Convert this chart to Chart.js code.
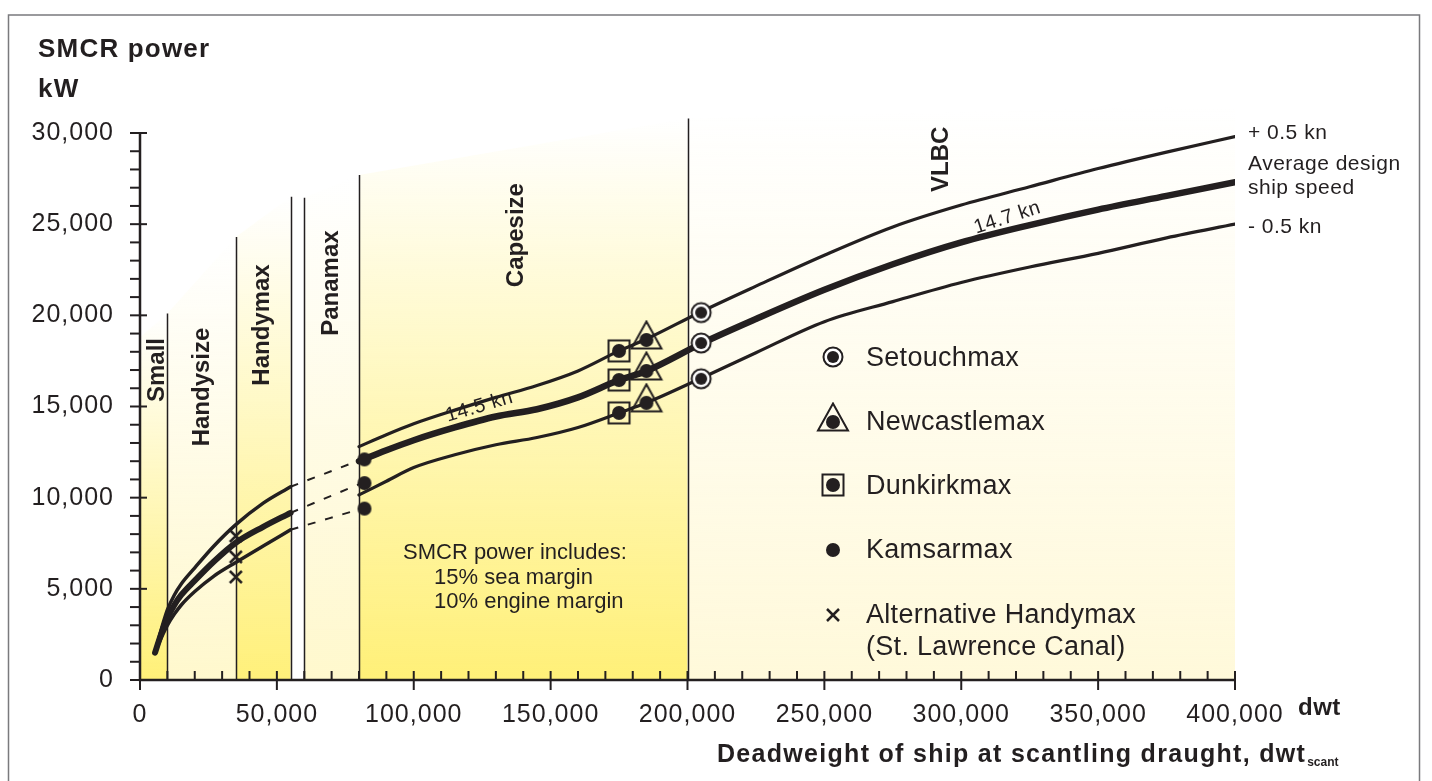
<!DOCTYPE html>
<html lang="en">
<head>
<meta charset="UTF-8">
<title>SMCR power vs deadweight</title>
<script src="https://cdn.jsdelivr.net/npm/chart.js"></script>
<style>
  html, body { margin: 0; padding: 0; background: #fff; }
  #wrap { width: 1432px; height: 781px; }
  canvas { display: block; background: #fff; }
</style>
</head>
<body>
<div id="wrap"><canvas id="powerChart" width="1432" height="781"></canvas></div>
<script>
// --- data -----------------------------------------------------------------
// axis ticks
const xTicks = [0, 50000, 100000, 150000, 200000, 250000, 300000, 350000, 400000];
const yTicks = [0, 5000, 10000, 15000, 20000, 25000, 30000];

// small ships (Small .. Handymax), solid part
const leftDwt = [5500, 7000, 8500, 10000, 12500, 15000, 20000, 27000, 35000, 45000, 55000];
const leftHigh = [1500, 2350, 3150, 3850, 4650, 5250, 6150, 7350, 8520, 9700, 10600];
const leftAvg = [1500, 2200, 2850, 3400, 4100, 4650, 5450, 6500, 7530, 8400, 9170];
const leftLow = [1500, 2050, 2550, 3000, 3600, 4100, 4850, 5700, 6450, 7350, 8240];

// dashed bridge towards Kamsarmax
const bridgeDwt = [55000, 81000];
const bridgeHigh = [10600, 12100];
const bridgeAvg = [9170, 10800];
const bridgeLow = [8240, 9400];

// Capesize .. VLBC curves
const rightDwt = [80000, 90000, 100000, 115000, 130000, 145000, 160000, 175000, 185000,
                  205000, 225000, 250000, 275000, 300000, 325000, 350000, 375000, 400000];
const rightHigh = [12800, 13450, 14050, 14800, 15500, 16150, 16950, 18050, 18700,
                   20200, 21600, 23300, 24850, 26050, 27050, 28050, 28950, 29800];
const rightAvg = [12000, 12600, 13150, 13850, 14450, 14850, 15500, 16450, 16950,
                  18450, 19800, 21400, 22800, 24000, 24950, 25800, 26550, 27300];
const rightLow = [10150, 10900, 11650, 12350, 12900, 13300, 13850, 14650, 15200,
                  16550, 17950, 19650, 20750, 21800, 22650, 23400, 24250, 25000];

// ship types
const kamsarDwt = [82000, 82000, 82000];
const kamsarPower = [12100, 10800, 9400];
const dunkirkDwt = [175000, 175000, 175000];
const dunkirkPower = [18050, 16450, 14650];
const newcastleDwt = [185000, 185000, 185000];
const newcastlePower = [18650, 16950, 15200];
const setouchDwt = [205000, 205000, 205000];
const setouchPower = [20150, 18480, 16520];
const altHandyDwt = [35000, 35000, 35000];
const altHandyPower = [7900, 6750, 5650];

// segments
const segNames = ['Small', 'Handysize', 'Handymax', 'Panamax', 'Capesize', 'VLBC'];
const segFrom = [0, 10000, 35000, 60000, 80000, 200000];
const segTo = [10000, 35000, 55000, 80000, 200000, 400000];
const dividerDwt = [10000, 35000, 55000, 60000, 80000, 200000];
const dividerTop = [20100, 24300, 26500, 26450, 27700, 30800];
const edgeDwt = [0, 10000, 35000, 55000, 60000, 80000, 200000, 400000];
const edgePower = [18800, 20100, 24300, 26500, 26450, 27700, 30800, 31500];

// --- style ----------------------------------------------------------------
const ink = '#231f20';
const FONT = "'Liberation Sans', Arial, Helvetica, sans-serif";
const segColor = [[255, 240, 120], [255, 248, 205], [255, 240, 122], [255, 248, 205], [255, 240, 120], [255, 249, 218]];
const segLabelAt = [[6200, 17000], [22900, 16070], [44800, 19470], [70000, 21770], [137600, 24400], [292700, 28560]];

function makeMarker(kind) {
  const c = document.createElement('canvas');
  c.width = 40; c.height = 40;
  const g = c.getContext('2d');
  g.translate(20, 20);
  g.strokeStyle = ink; g.fillStyle = ink; g.lineWidth = 2;
  const dot = r => { g.beginPath(); g.arc(0, 0, r, 0, Math.PI * 2); g.fillStyle = ink; g.fill(); };
  if (kind === 'ring') {
    g.beginPath(); g.arc(0, 0, 9.5, 0, Math.PI * 2);
    g.fillStyle = '#fff'; g.fill(); g.stroke();
    dot(6);
  } else if (kind === 'triangle') {
    g.beginPath(); g.moveTo(0, -18.5); g.lineTo(15, 8.5); g.lineTo(-15, 8.5); g.closePath(); g.stroke();
    dot(7);
  } else if (kind === 'square') {
    g.strokeRect(-10.5, -10.5, 21, 21);
    dot(7);
  } else if (kind === 'dot') {
    dot(7);
  } else {
    g.lineWidth = 2.5;
    g.beginPath(); g.moveTo(-6, -6); g.lineTo(6, 6); g.moveTo(6, -6); g.lineTo(-6, 6); g.stroke();
  }
  return c;
}
const markers = {
  ring: makeMarker('ring'), triangle: makeMarker('triangle'), square: makeMarker('square'),
  dot: makeMarker('dot'), cross: makeMarker('cross')
};

const pts = (xs, ys) => xs.map((v, i) => ({ x: v, y: ys[i] }));
const curve = (xs, ys, w, dash) => ({
  type: 'line', data: pts(xs, ys), borderColor: ink, borderWidth: w, borderDash: dash || [],
  borderCapStyle: dash ? 'butt' : 'round', pointRadius: 0, fill: false, cubicInterpolationMode: 'monotone'
});
const dots = (xs, ys, img) => ({
  type: 'scatter', data: pts(xs, ys), pointStyle: img, pointRadius: 10, showLine: false
});

function edgeAt(v) {
  for (let i = 1; i < edgeDwt.length; i++) {
    if (v <= edgeDwt[i]) {
      const t = (v - edgeDwt[i - 1]) / (edgeDwt[i] - edgeDwt[i - 1]);
      return edgePower[i - 1] + t * (edgePower[i] - edgePower[i - 1]);
    }
  }
  return edgePower[edgePower.length - 1];
}

// the printed original uses slightly tracked type
function text(ctx, str, x, y, font, spacing) {
  ctx.font = font;
  ctx.letterSpacing = (spacing || 0) + 'px';
  ctx.fillText(str, x, y);
  ctx.letterSpacing = '0px';
}

// background: shaded segments, dividers, axes
const backdrop = {
  id: 'backdrop',
  beforeDraw(chart) {
    chart.ctx.letterSpacing = '1px';   // tick labels
  },
  beforeDatasetsDraw(chart) {
    const { ctx, chartArea: a, scales: { x, y } } = chart;
    ctx.save();
    ctx.letterSpacing = '0px';
    segFrom.forEach((x0, i) => {
      const x1 = segTo[i];
      const px0 = x.getPixelForValue(x0), px1 = x.getPixelForValue(x1);
      const t0 = y.getPixelForValue(edgeAt(x0)), t1 = y.getPixelForValue(edgeAt(x1));
      const c = segColor[i];
      const g = ctx.createLinearGradient(0, a.bottom, 0, Math.min(t0, t1));
      g.addColorStop(0, `rgba(${c[0]},${c[1]},${c[2]},1)`);
      g.addColorStop(1, `rgba(${c[0]},${c[1]},${c[2]},0)`);
      ctx.fillStyle = g;
      ctx.beginPath();
      ctx.moveTo(px0, a.bottom); ctx.lineTo(px0, t0); ctx.lineTo(px1, t1); ctx.lineTo(px1, a.bottom);
      ctx.closePath(); ctx.fill();
    });

    ctx.strokeStyle = ink;
    ctx.lineWidth = 1.5;
    dividerDwt.forEach((v, i) => {
      const px = Math.round(x.getPixelForValue(v)) + 0.5;
      ctx.beginPath(); ctx.moveTo(px, a.bottom); ctx.lineTo(px, y.getPixelForValue(dividerTop[i])); ctx.stroke();
    });

    // axes with crossing major ticks
    ctx.lineWidth = 2.5;
    ctx.beginPath();
    ctx.moveTo(a.left, y.getPixelForValue(30000)); ctx.lineTo(a.left, a.bottom);
    ctx.lineTo(a.right, a.bottom);
    ctx.stroke();
    ctx.lineWidth = 2;
    for (let v = 0; v <= 400000; v += 10000) {
      const px = x.getPixelForValue(v);
      const major = v % 50000 === 0;
      ctx.beginPath(); ctx.moveTo(px, a.bottom - 9); ctx.lineTo(px, a.bottom + (major ? 10 : 0)); ctx.stroke();
    }
    for (let v = 0; v <= 30000; v += 1000) {
      const py = y.getPixelForValue(v);
      const major = v % 5000 === 0;
      ctx.beginPath(); ctx.moveTo(a.left - 10, py); ctx.lineTo(a.left + (major ? 7 : 0), py); ctx.stroke();
    }

    // segment names
    ctx.fillStyle = ink;
    ctx.textAlign = 'center';
    ctx.textBaseline = 'middle';
    segNames.forEach((n, i) => {
      ctx.save();
      ctx.translate(x.getPixelForValue(segLabelAt[i][0]), y.getPixelForValue(segLabelAt[i][1]));
      ctx.rotate(-Math.PI / 2);
      text(ctx, n, 0, 0, `bold 24px ${FONT}`);
      ctx.restore();
    });
    ctx.restore();
  },
  afterDatasetsDraw(chart) {
    const { ctx } = chart;
    ctx.save();
    ctx.fillStyle = ink;
    ctx.textAlign = 'left';
    ctx.textBaseline = 'alphabetic';

    // axis titles
    text(ctx, 'SMCR power', 38, 57, `bold 26px ${FONT}`, 1.2);
    text(ctx, 'kW', 38, 97, `bold 26px ${FONT}`, 1.2);
    text(ctx, 'dwt', 1298, 715, `bold 24px ${FONT}`, 0.5);
    const title = 'Deadweight of ship at scantling draught, dwt';
    ctx.font = `bold 25px ${FONT}`;
    ctx.letterSpacing = '1.3px';
    const tw = ctx.measureText(title).width;
    text(ctx, title, 717, 762, `bold 25px ${FONT}`, 1.3);
    text(ctx, 'scant', 717 + tw + 1, 766, `bold 12px ${FONT}`);

    // note
    text(ctx, 'SMCR power includes:', 403, 559, `22px ${FONT}`);
    text(ctx, '15% sea margin', 434, 584, `22px ${FONT}`);
    text(ctx, '10% engine margin', 434, 608, `22px ${FONT}`);

    // curve labels on the right
    const f21 = `21px ${FONT}`;
    text(ctx, '+ 0.5 kn', 1248, 139, f21, 0.5);
    text(ctx, 'Average design', 1248, 170, f21, 0.5);
    text(ctx, 'ship speed', 1248, 194, f21, 0.5);
    text(ctx, '- 0.5 kn', 1248, 233, f21, 0.5);

    // speed labels along the average curve
    ctx.textAlign = 'center';
    [['14.5 kn', 481, 412, -16.5], ['14.7 kn', 1009, 223, -18]].forEach(([t, px, py, ang]) => {
      ctx.save();
      ctx.translate(px, py);
      ctx.rotate(ang * Math.PI / 180);
      text(ctx, t, 0, 0, `20px ${FONT}`, 0.5);
      ctx.restore();
    });

    // legend
    ctx.textAlign = 'left';
    const legend = [
      [markers.ring, 357, ['Setouchmax'], 366],
      [markers.triangle, 422, ['Newcastlemax'], 430],
      [markers.square, 485, ['Dunkirkmax'], 494],
      [markers.dot, 550, ['Kamsarmax'], 558],
      [markers.cross, 615, ['Alternative Handymax', '(St. Lawrence Canal)'], 623]
    ];
    legend.forEach(([img, my, lines, by]) => {
      ctx.drawImage(img, 833 - 20, my - 20);
      lines.forEach((l, k) => text(ctx, l, 866, by + k * 32, `27px ${FONT}`, 0.3));
    });

    // frame
    ctx.strokeStyle = '#7a7a7d';
    ctx.lineWidth = 1.5;
    ctx.strokeRect(8.5, 15, 1411, 800);
    ctx.restore();
  }
};

new Chart(document.getElementById('powerChart'), {
  type: 'line',
  data: {
    datasets: [
      dots(setouchDwt, setouchPower, markers.ring),
      dots(newcastleDwt, newcastlePower, markers.triangle),
      dots(dunkirkDwt, dunkirkPower, markers.square),
      dots(kamsarDwt, kamsarPower, markers.dot),
      dots(altHandyDwt, altHandyPower, markers.cross),
      curve(rightDwt, rightHigh, 3.2),
      curve(rightDwt, rightAvg, 6.5),
      curve(rightDwt, rightLow, 3.2),
      curve(leftDwt, leftHigh, 3.5),
      curve(leftDwt, leftAvg, 6),
      curve(leftDwt, leftLow, 3.5),
      curve(bridgeDwt, bridgeHigh, 2, [8, 10]),
      curve(bridgeDwt, bridgeAvg, 2, [8, 10]),
      curve(bridgeDwt, bridgeLow, 2, [8, 10])
    ]
  },
  options: {
    responsive: false,
    animation: false,
    events: [],
    devicePixelRatio: 1,
    layout: { padding: { left: 12, right: 197, top: 133, bottom: 0 } },
    plugins: { legend: { display: false }, tooltip: { enabled: false } },
    scales: {
      x: {
        type: 'linear', min: 0, max: 400000,
        afterFit: s => { s.height = 101; },
        afterBuildTicks: s => { s.ticks = xTicks.map(v => ({ value: v })); },
        grid: { display: false, drawTicks: false },
        border: { display: false },
        ticks: {
          autoSkip: false, maxRotation: 0, padding: 20, color: ink,
          font: { family: FONT, size: 25 },
          callback: v => v.toLocaleString('en-US')
        }
      },
      y: {
        type: 'linear', min: 0, max: 30000,
        afterFit: s => { s.width = 128; },
        afterBuildTicks: s => { s.ticks = yTicks.map(v => ({ value: v })); },
        grid: { display: false, drawTicks: false },
        border: { display: false },
        ticks: {
          padding: 26, color: ink,
          font: { family: FONT, size: 25 },
          callback: v => v.toLocaleString('en-US')
        }
      }
    }
  },
  plugins: [backdrop]
});
</script>
</body>
</html>
